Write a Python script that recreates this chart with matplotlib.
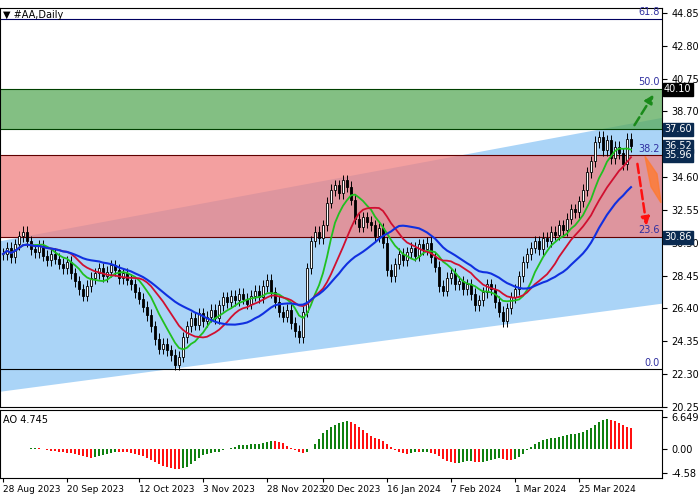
import matplotlib
matplotlib.use("Agg")
import matplotlib.pyplot as plt
import numpy as np
from matplotlib.patches import Polygon, Rectangle

closes = [29.8,30.2,29.6,30.4,30.9,31.2,30.6,30.1,29.9,30.3,29.7,
 29.4,29.8,29.5,29.2,28.9,29.3,28.6,28.1,27.6,27.2,
 27.8,28.3,28.6,28.9,28.4,28.7,29.1,28.8,28.3,28.6,
 28.2,27.9,27.4,27.0,26.5,26.0,25.3,24.5,23.9,24.2,
 23.8,23.5,22.9,23.4,24.6,25.3,
 25.8,25.4,26.1,25.6,25.9,26.3,25.8,26.6,27.1,26.8,
 27.2,26.9,27.3,27.0,26.7,27.2,27.5,27.1,27.8,28.2,
 27.4,26.8,26.2,25.9,26.3,25.5,25.0,24.6,26.2,28.9,
 30.6,31.2,30.8,31.6,33.0,33.8,34.1,33.6,34.4,34.0,
 33.2,32.0,31.5,32.1,31.8,31.6,30.9,31.4,30.5,28.8,
 28.4,29.2,29.8,29.4,29.9,30.2,29.7,30.4,30.1,30.5,
 29.6,29.0,27.8,27.5,28.3,28.6,27.9,28.1,27.6,27.9,
 27.3,26.6,26.9,27.4,27.9,27.6,26.8,26.2,25.6,26.4,
 27.1,27.6,28.4,29.3,29.8,30.2,30.6,30.1,30.8,30.6,
 31.2,31.0,31.6,31.3,32.0,32.6,32.4,33.1,33.8,34.9,
 35.6,36.8,37.1,36.3,36.9,35.8,36.5,36.1,35.4,37.0,36.52]
date_labels = ["28 Aug 2023","20 Sep 2023","12 Oct 2023","3 Nov 2023","28 Nov 2023",
               "20 Dec 2023","16 Jan 2024","7 Feb 2024","1 Mar 2024","25 Mar 2024"]
date_idx = [0,16,34,50,66,80,96,112,128,144]
right_ticks = [44.85,42.80,40.75,38.70,34.60,32.55,30.50,28.45,26.40,24.35,22.30,20.25]
fib_levels = [22.6,30.86,35.96,40.10,44.5]
fib_names = ["0.0","23.6","38.2","50.0","61.8"]

c = np.array(closes)
n = len(c)
o = np.r_[c[0], c[:-1]]
hi = np.maximum(o, c) + 0.35
lo = np.minimum(o, c) - 0.35
x = np.arange(n)

def sma(a, p):
    return np.array([a[max(0,i-p+1):i+1].mean() for i in range(len(a))])

fig = plt.figure(figsize=(7,5), dpi=100)
ax = fig.add_axes([0, 1-407/500, 662/700, 399/500])
ax2 = fig.add_axes([0, 1-478/500, 662/700, 68/500])
xl = (-0.75, 164.75)
ylo, yhi = 20.38, 45.16
for a in (ax, ax2):
    a.set_xlim(*xl)

ax.add_patch(Polygon([[xl[0],21.2],[xl[1],26.7],[xl[1],38.3],[xl[0],30.6]],
                     closed=True, color="#aad4f7", zorder=0, lw=0))
ax.add_patch(Rectangle((xl[0],37.60), xl[1]-xl[0], 2.5, color="#5aaa5a", alpha=0.75, zorder=1, lw=0))
ax.add_patch(Rectangle((xl[0],30.86), xl[1]-xl[0], 5.10, color="#f08080", alpha=0.75, zorder=1, lw=0))
ax.axhline(37.60, color="#004000", lw=0.8); ax.axhline(40.10, color="#004000", lw=0.8)
ax.axhline(30.86, color="#600000", lw=0.8); ax.axhline(35.96, color="#600000", lw=0.8)
ax.axhline(22.6, color="black", lw=0.8); ax.axhline(44.5, color="#000060", lw=0.8)
for lv, nm in zip(fib_levels, fib_names):
    ax.text(xl[1]-0.5, lv+0.1, nm, ha="right", va="bottom", fontsize=7, color="#3030a0")

w = 0.6
for i in x:
    ax.vlines(i, lo[i], hi[i], color="black", lw=0.7, zorder=3)
    up = c[i] >= o[i]
    ax.add_patch(Rectangle((i-w/2, min(o[i],c[i])), w, max(abs(c[i]-o[i]),0.03),
                 facecolor="white" if up else "black", edgecolor="black", lw=0.6, zorder=4))

ax.plot(x, sma(c,8), color="#20c020", lw=1.3, zorder=5)
ax.plot(x, sma(c,14), color="#d01030", lw=1.3, zorder=5)
ax.plot(x, sma(c,24), color="#1030e0", lw=1.5, zorder=5)

ax.annotate("", xy=(163, 39.9), xytext=(157.5, 37.7),
            arrowprops=dict(arrowstyle="-|>", color="#1a8a1a", lw=1.8, ls="--", mutation_scale=12))
ax.annotate("", xy=(161, 31.4), xytext=(158.5, 35.6),
            arrowprops=dict(arrowstyle="-|>", color="#ff1010", lw=1.8, ls="--", mutation_scale=12))
ax.add_patch(Polygon([[160.5,35.9],[163.5,34.8],[164.5,33.0],[162,34.0]], color="#ff7a30", alpha=0.8, zorder=6))

ax.set_ylim(ylo, yhi)
ax.yaxis.tick_right()
ax.set_yticks(right_ticks)
ax.set_yticklabels([f"{t:.2f}" for t in right_ticks], fontsize=7)
ax.set_xticks([])
for lv, col in [(40.10,"black"),(37.60,"#0a2a50"),(36.52,"#0a2a50"),(35.96,"#0a2a50"),(30.86,"#0a2a50")]:
    ax.text(xl[1]+0.5, lv, f"{lv:.2f}", transform=ax.transData, fontsize=7, color="white",
            va="center", ha="left", bbox=dict(boxstyle="square,pad=0.15", fc=col, ec=col), clip_on=False, zorder=10)
ax.text(0.005, 0.995, "▼ #AA,Daily", transform=ax.transAxes, fontsize=7, va="top", ha="left")

med = (hi+lo)/2
ao = sma(med,5) - sma(med,34)
cols = ["#108010" if i==0 or ao[i]>=ao[i-1] else "#ff1010" for i in range(n)]
ax2.bar(x, ao, width=0.7, color=cols)
ax2.set_ylim(-5.5, 7.6)
ax2.yaxis.tick_right()
ax2.set_yticks([6.2, 0.0, -4.58])
ax2.set_yticklabels(["6.649","0.00","-4.58"], fontsize=7)
ax2.set_xticks(date_idx)
ax2.set_xticklabels(date_labels, fontsize=6.5, ha="left")
ax2.tick_params(axis="x", length=3, pad=2)
ax2.text(0.005, 0.93, "AO 4.745", transform=ax2.transAxes, fontsize=7, va="top")

fig.savefig("out.png", dpi=100)
